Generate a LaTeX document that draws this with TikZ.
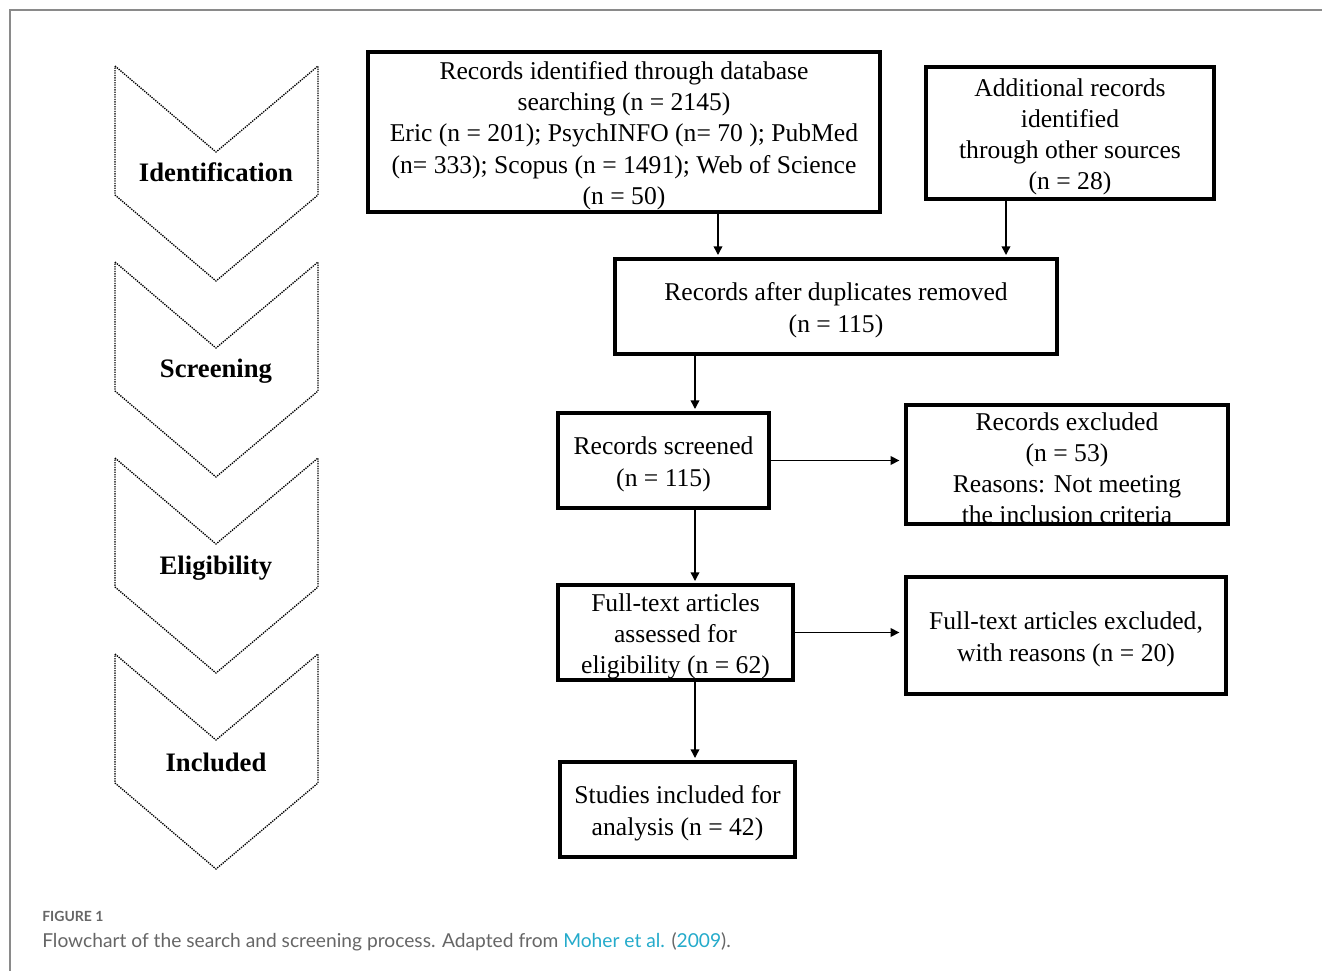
\documentclass[tikz,border=0pt]{standalone}
\usepackage{fontspec}
\setmainfont{Liberation Serif}
\newfontfamily\capfont{Lato}
\usetikzlibrary{arrows.meta,calc}
\definecolor{framegray}{HTML}{8A8A8A}
\definecolor{capgray}{HTML}{666666}
\definecolor{linkblue}{HTML}{25ABCB}
\newcommand{\topstrut}{\rule{0pt}{19pt}}
\begin{document}
\begin{tikzpicture}[x=0.75pt,y=-0.75pt,
  box/.style={draw=black,line width=3pt,inner sep=0pt,align=center,
    font=\fontsize{19.2}{23.4}\selectfont},
  arr/.style={draw=black,line width=1.1pt,-{Triangle[length=6.5pt,width=6.5pt]},shorten >=1.5pt},
  harr/.style={arr,shorten >=3.5pt},
  chev/.style={draw=black,line width=1pt,dash pattern=on 1pt off 0.8pt},
  stage/.style={font=\fontsize{20}{24}\selectfont\bfseries,inner sep=0pt}]
\useasboundingbox (0,0) rectangle (1322,971);
\fill[white] (0,0) rectangle (1322,971);
% frame
\draw[framegray,line width=1.2pt] (1322,10) -- (10,10) -- (10,971);
% chevrons
\foreach \k/\lab/\nm/\ly in {0/Identification/sid/172,1/Screening/ssc/371,2/Eligibility/sel/568,3/Included/sin/762}{
  \draw[chev] (115,66+196*\k) -- (216,152+196*\k) -- (318,66+196*\k) -- (318,195+196*\k)
     -- (216,281+196*\k) -- (115,195+196*\k) -- cycle;
  \node[stage] (\nm) at (216,\ly) {\lab};
}
% boxes
\node[box,minimum width=384pt,minimum height=120pt] (b1) at (624,132)
  {\topstrut Records identified through database\\searching (n = 2145)\\Eric (n = 201); PsychINFO (n= 70 ); PubMed\\(n= 333); Scopus (n = 1491); Web of Science\\(n = 50)};
\node[box,minimum width=216pt,minimum height=99pt] (b2) at (1070,133)
  {\topstrut Additional records\\identified\\through other sources\\(n = 28)};
\node[box,minimum width=331.5pt,minimum height=71.25pt] (b3) at (836,306.5)
  {\topstrut Records after duplicates removed\\(n = 115)};
\node[box,minimum width=158.25pt,minimum height=71.25pt] (b4) at (663.5,460.5)
  {\topstrut Records screened\\(n = 115)};
\node[box,minimum width=241.5pt,minimum height=89.25pt] (b5) at (1067,464.5)
  {\topstrut Records excluded\\(n = 53)\\Reasons: Not meeting\\the inclusion criteria};
\node[box,minimum width=176.25pt,minimum height=71.25pt] (b6) at (675.5,632.5)
  {\topstrut Full-text articles\\assessed for\\eligibility (n = 62)};
\node[box,minimum width=240pt,minimum height=87.75pt] (b7) at (1066,635.5)
  {\topstrut Full-text articles excluded,\\with reasons (n = 20)};
\node[box,minimum width=176.25pt,minimum height=71.25pt] (b8) at (677.5,809.5)
  {\topstrut Studies included for\\analysis (n = 42)};
% connectors
\coordinate (c1) at ($(b1.south)+(94,0)$);
\coordinate (c2) at ($(b2.south)+(-64,0)$);
\coordinate (c3) at ($(b3.south)+(-141,0)$);
\coordinate (c4) at ($(b4.south)+(31.5,0)$);
\coordinate (c5) at ($(b6.south)+(19.5,0)$);
\draw[arr] (c1) -- (c1 |- b3.north);
\draw[arr] (c2) -- (c2 |- b3.north);
\draw[arr] (c3) -- (c3 |- b4.north);
\draw[arr] (c4) -- (c4 |- b6.north);
\draw[arr] (c5) -- (c5 |- b8.north);
\draw[harr] (b4.east) -- (b4.east -| b5.west);
\draw[harr] (b6.east) -- (b6.east -| b7.west);
% caption
\node[anchor=base west,inner sep=0pt,text=capgray,font=\capfont\fontsize{10.5}{12}\selectfont\bfseries] (fig) at (42,921) {FIGURE 1};
\node[anchor=base west,inner sep=0pt,text=capgray,font=\capfont\fontsize{14.4}{16}\selectfont] (cap) at (42,947)
  {Flowchart of the search and screening process. Adapted from \textcolor{linkblue}{Moher et al.} (\textcolor{linkblue}{2009}).};
\end{tikzpicture}
\end{document}
